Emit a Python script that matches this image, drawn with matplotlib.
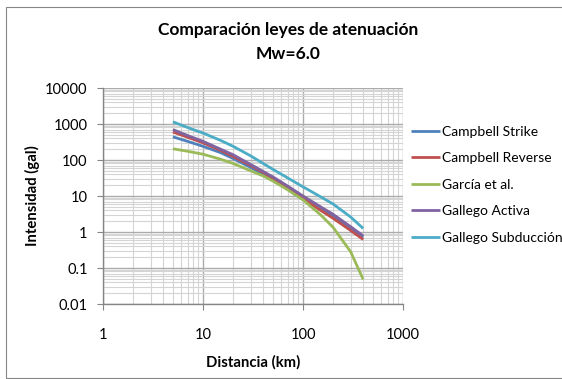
import matplotlib.pyplot as plt
from matplotlib.patches import Rectangle
from matplotlib.ticker import LogLocator, FixedLocator, FixedFormatter, NullFormatter

plt.rcParams['font.family'] = ['Lato', 'DejaVu Sans']

# distancias (km) y valores
dist = [5, 7, 10, 15, 20, 30, 40, 50, 70, 100, 150, 200, 300, 400]
campbell_strike = [440, 330, 240, 160, 110, 62, 40, 28, 15.5, 8, 4.2, 2.7, 1.3, 0.72]
campbell_reverse = [600, 430, 300, 185, 125, 70, 45, 31, 17, 8.5, 4, 2.4, 1.1, 0.62]
garcia = [205, 175, 145, 105, 80, 50, 36, 26, 15, 7.8, 3, 1.35, 0.28, 0.048]
gallego_activa = [700, 480, 330, 200, 140, 75, 48, 34, 19, 10, 5, 3.1, 1.4, 0.78]
gallego_subd = [1150, 800, 560, 350, 240, 130, 80, 55, 32, 18, 9.5, 6, 2.6, 1.25]

series = [
    ("Campbell Strike", campbell_strike, "#4F81BD"),
    ("Campbell Reverse", campbell_reverse, "#C0504D"),
    ("García et al.", garcia, "#9BBB59"),
    ("Gallego Activa", gallego_activa, "#8064A2"),
    ("Gallego Subducción", gallego_subd, "#4BACC6"),
]

fig = plt.figure(figsize=(5.62, 3.79), dpi=100)
fig.patches.append(Rectangle((6 / 562, 0.002), 0.995, 1 - 8 / 379, transform=fig.transFigure,
                             fill=False, edgecolor="#868686", linewidth=0.8))

ax = fig.add_axes([103 / 562, 1 - 304 / 379, 300 / 562, 216 / 379])
for name, vals, col in series:
    ax.plot(dist, vals, color=col, linewidth=2.0, label=name, solid_capstyle="butt")

ax.set_xscale("log")
ax.set_yscale("log")
ax.set_xlim(1, 1000)
ax.set_ylim(0.01, 10000)

ax.yaxis.set_major_locator(FixedLocator([0.01, 0.1, 1, 10, 100, 1000, 10000]))
ax.yaxis.set_major_formatter(FixedFormatter(["0.01", "0.1", "1", "10", "100", "1000", "10000"]))
ax.xaxis.set_major_locator(FixedLocator([1, 10, 100, 1000]))
ax.xaxis.set_major_formatter(FixedFormatter(["1", "10", "100", "1000"]))
ax.xaxis.set_minor_locator(LogLocator(base=10, subs=range(2, 10)))
ax.yaxis.set_minor_locator(LogLocator(base=10, subs=range(2, 10)))
ax.xaxis.set_minor_formatter(NullFormatter())
ax.yaxis.set_minor_formatter(NullFormatter())

ax.grid(which="major", color="#ababab", linewidth=1.0)
ax.grid(which="minor", color="#d4d4d4", linewidth=0.8)
ax.set_axisbelow(True)

for s in ("top", "right"):
    ax.spines[s].set_visible(False)
for s in ("left", "bottom"):
    ax.spines[s].set_color("#868686")
    ax.spines[s].set_linewidth(1.0)
ax.tick_params(which="major", direction="out", length=4, color="#868686", labelsize=10.5, pad=7)
ax.tick_params(which="minor", length=0)
ax.tick_params(axis="x", pad=13)

ax.set_xlabel("Distancia (km)", fontsize=10.7, fontweight="bold", labelpad=10)
ax.set_ylabel("Intensidad (gal)", fontsize=10.7, fontweight="bold", labelpad=4)

fig.text(288 / 562, 1 - 30 / 379, "Comparación leyes de atenuación", ha="center", va="center",
         fontsize=12.5, fontweight="bold")
fig.text(288 / 562, 1 - 54 / 379, "Mw=6.0", ha="center", va="center",
         fontsize=12.5, fontweight="bold")

fig.legend(loc="upper left", bbox_to_anchor=(405 / 562, 1 - 120 / 379), frameon=False,
           fontsize=10, handlelength=2.1, handletextpad=0.15, labelspacing=1.05, borderaxespad=0)

fig.savefig("out.png", dpi=100)
